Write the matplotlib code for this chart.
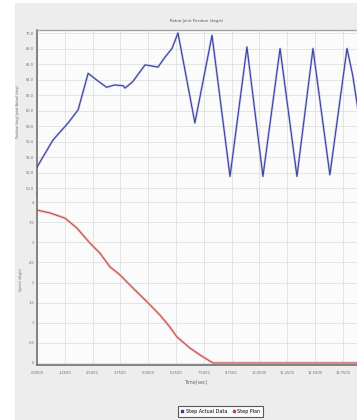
import matplotlib
matplotlib.use("Agg")
import matplotlib.pyplot as plt
from matplotlib.lines import Line2D

# ---- data ----
title = "Robot Joint Position (deg/s)"
x_label = "Time(sec)"
top_ylabel = "Position (deg) Joint Actual (deg)"
bot_ylabel = "Speed (deg/s)"
legend_labels = ["Step Actual Data", "Step Plan"]

x_ticks = [0.0, 1.25, 2.5, 3.75, 5.0, 6.25, 7.5, 8.75, 10.0, 11.25, 12.5, 13.75]
x_ticklabels = ["0.0000", "1.2500", "2.5000", "3.7500", "5.0000", "6.2500",
                "7.5000", "8.7500", "10.0000", "11.2500", "12.5000", "13.7500"]
top_yticks = [70, 68, 66, 64, 62, 60, 58, 56, 54, 52, 50]
bot_yticks = [4, 3.5, 3, 2.5, 2, 1.5, 1, 0.5, 0]

blue_t = [0.0, 0.72, 1.4, 1.85, 2.3, 2.7, 3.13, 3.5, 3.88, 3.96, 4.3, 4.86,
          5.44, 5.76, 6.07, 6.34, 7.1, 7.87, 8.68, 9.44, 10.16, 10.93,
          11.69, 12.41, 13.17, 13.94, 14.2, 14.6]
blue_v = [52.7, 56.2, 58.4, 60.1, 64.8, 63.9, 63.0, 63.3, 63.2, 62.9, 63.7, 65.9,
          65.6, 66.9, 68.0, 70.0, 58.4, 69.7, 51.5, 68.2, 51.5, 68.0,
          51.5, 68.0, 51.7, 68.0, 64.5, 57.0]

red_t = [0.0, 0.58, 1.26, 1.8, 2.38, 2.83, 3.28, 3.73, 4.32, 4.95, 5.53,
         5.98, 6.29, 6.88, 7.33, 7.91, 10.0, 14.6]
red_v = [3.80, 3.73, 3.60, 3.35, 2.98, 2.73, 2.39, 2.19, 1.86, 1.52, 1.19,
         0.89, 0.65, 0.37, 0.20, 0.0, 0.0, 0.0]

W, H = 357, 420
fig = plt.figure(figsize=(W / 100, H / 100), dpi=100)
fig.patch.set_facecolor("white")

def px(l, t, r, b):
    return [l / W, 1 - b / H, (r - l) / W, (b - t) / H]

bg = fig.add_axes(px(15, 3, 357, 420), zorder=-10)
bg.set_facecolor("#ededed")
bg.set_xticks([])
bg.set_yticks([])
for s in bg.spines.values():
    s.set_visible(False)

ax1 = fig.add_axes(px(37, 30, 357, 194))
ax2 = fig.add_axes(px(37, 194, 357, 365))

grid_c = "#dadada"
fs = 2.6
for ax in (ax1, ax2):
    ax.set_facecolor("#fbfbfb")
    ax.set_xlim(0, 14.39)
    ax.set_xticks(x_ticks)
    ax.grid(True, color=grid_c, linewidth=0.5)
    ax.set_axisbelow(True)
    ax.spines["right"].set_visible(False)
    ax.spines["left"].set_color("#666666")
    ax.spines["left"].set_linewidth(1.1)
    ax.tick_params(length=0, labelsize=fs, colors="#707070", pad=2)

ax1.set_ylim(49.23, 70.39)
ax1.set_yticks(top_yticks)
ax1.set_yticklabels([f"{v:.1f}" for v in top_yticks])
ax1.tick_params(axis="x", labelbottom=False)
ax1.spines["bottom"].set_visible(False)
ax1.spines["top"].set_color("#a0a0a0")
ax1.spines["top"].set_linewidth(0.9)
ax1.plot(blue_t, blue_v, color="#b8bce6", linewidth=1.6, zorder=2)
ax1.plot(blue_t, blue_v, color="#343a96", linewidth=0.7, zorder=3)
ax1.set_title(title, fontsize=2.8, color="#555555", pad=6)
ax1.set_ylabel(top_ylabel, fontsize=2.4, color="#707070", labelpad=4)

ax2.set_ylim(-0.05, 4.2)
ax2.set_yticks(bot_yticks)
ax2.set_yticklabels([f"{v:g}" for v in bot_yticks])
ax2.set_xticklabels(x_ticklabels)
ax2.tick_params(axis="x", pad=4)
ax2.spines["top"].set_visible(False)
ax2.spines["bottom"].set_color("#666666")
ax2.spines["bottom"].set_linewidth(1.1)
ax2.plot(red_t, red_v, color="#f5c4c4", linewidth=2.0, zorder=2)
ax2.plot(red_t, red_v, color="#b84848", linewidth=0.7, zorder=3)
ax2.set_ylabel(bot_ylabel, fontsize=2.4, color="#707070", labelpad=4)
ax2.set_xlabel(x_label, fontsize=3.4, color="#666666", labelpad=4)

handles = [Line2D([], [], marker="s", markersize=1.6, linestyle="none", color="#343a96"),
           Line2D([], [], marker="s", markersize=1.6, linestyle="none", color="#b84848")]
leg = fig.legend(handles, legend_labels, loc="center", ncol=2,
                 bbox_to_anchor=(220.5 / W, 1 - 411.5 / H), fontsize=3.5,
                 frameon=True, fancybox=False, handlelength=0.6,
                 handletextpad=0.4, columnspacing=1.0, borderpad=0.55)
leg.get_frame().set_edgecolor("#333333")
leg.get_frame().set_linewidth(0.8)
leg.get_frame().set_facecolor("white")

fig.savefig("out.png", dpi=100, facecolor=fig.get_facecolor())
